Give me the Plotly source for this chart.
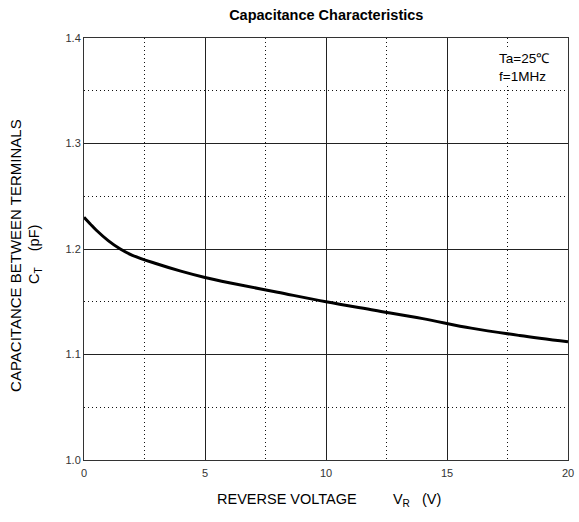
import plotly.graph_objects as go

voltage = [0, 0.25, 0.5, 1, 1.5, 2, 3, 4, 5, 6, 8, 10, 12, 14, 16, 18, 20]
capacitance = [1.230, 1.224, 1.218, 1.208, 1.200, 1.194, 1.186, 1.179, 1.173,
               1.168, 1.159, 1.150, 1.142, 1.134, 1.125, 1.118, 1.112]
x_ticks = [0, 5, 10, 15, 20]
y_ticks = [1.0, 1.1, 1.2, 1.3, 1.4]

fig = go.Figure()
fig.add_trace(go.Scatter(x=voltage, y=capacitance, mode="lines",
                         line=dict(color="black", width=3, shape="spline"),
                         showlegend=False))

font = "Liberation Sans, Arial, sans-serif"
fig.update_layout(
    width=579, height=522,
    margin=dict(l=84, r=11, t=38, b=62),
    paper_bgcolor="white", plot_bgcolor="white",
    title=dict(text="<b>Capacitance Characteristics</b>", x=0.5635, xanchor="center",
               y=1 - 15 / 522, yanchor="middle", font=dict(family=font, size=14.5, color="black")),
    font=dict(family=font, color="black"),
    xaxis=dict(range=[0, 20], tickvals=x_ticks, ticktext=[str(v) for v in x_ticks],
               showline=True, linecolor="#333333", linewidth=1, mirror=True,
               showgrid=True, gridcolor="#222222", gridwidth=1,
               zeroline=False, ticks="", tickfont=dict(size=11, color="#333"),
               ticklabelstandoff=3, automargin=False, ticklabeloverflow="allow",
               minor=dict(dtick=2.5, showgrid=True, gridcolor="#111111", griddash="1px,3px", gridwidth=1)),
    yaxis=dict(range=[1.0, 1.4], tickvals=y_ticks, ticktext=[f"{v:.1f}" for v in y_ticks],
               showline=True, linecolor="#333333", linewidth=1, mirror=True,
               showgrid=True, gridcolor="#222222", gridwidth=1,
               zeroline=False, ticks="", tickfont=dict(size=11, color="#333"),
               automargin=False,
               minor=dict(dtick=0.05, showgrid=True, gridcolor="#111111", griddash="1px,3px", gridwidth=1)),
)
fig.add_annotation(x=-0.1405, y=0.486, xref="paper", yref="paper", xanchor="center", yanchor="middle",
                   text="CAPACITANCE BETWEEN TERMINALS", textangle=-90, showarrow=False,
                   font=dict(family=font, size=15, color="black"))
fig.add_annotation(x=-0.101, y=0.486, xref="paper", yref="paper", xanchor="center", yanchor="middle",
                   text="C<sub>T</sub>&nbsp;&nbsp;&nbsp;&nbsp;(pF)", textangle=-90, showarrow=False,
                   font=dict(family=font, size=14.5, color="black"))
fig.add_annotation(x=0.2707, y=-0.095, xref="paper", yref="paper", xanchor="left", yanchor="middle",
                   text="REVERSE VOLTAGE" + "&nbsp;" * 9 + "V<sub>R</sub>" + "&nbsp;" * 3 + "(V)",
                   showarrow=False, font=dict(family=font, size=14.5, color="black"))
fig.add_annotation(x=0.967, y=0.975, xref="paper", yref="paper", xanchor="right", yanchor="top",
                   text="Ta=25℃<br>f=1MHz", showarrow=False, align="left",
                   font=dict(family=font, size=13.5, color="black"), bgcolor="white")
fig.write_html("out.html", config={"displayModeBar": False},
               post_script="document.body.style.margin='0';document.body.style.overflow='hidden';")
